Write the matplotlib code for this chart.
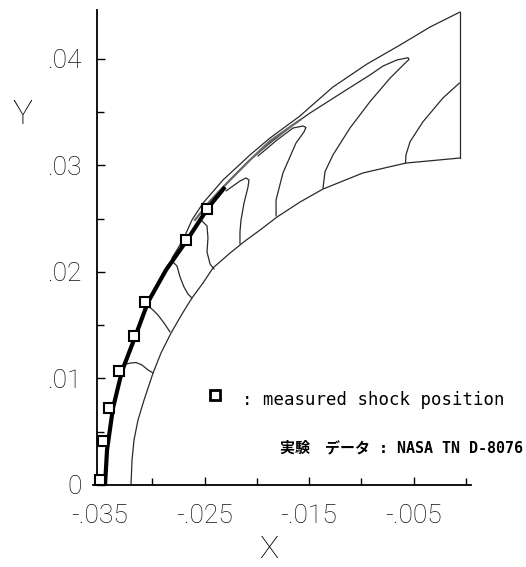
import matplotlib
matplotlib.use("Agg")
import matplotlib.pyplot as plt
from matplotlib.ticker import FixedLocator

# ---------------- data ----------------
# measured shock position (NASA TN D-8076)
meas_x = [-0.0350, -0.0347, -0.0341, -0.0332, -0.0317, -0.0307, -0.0268, -0.0248]
meas_y = [0.00047, 0.00413, 0.00723, 0.0107, 0.0140, 0.0172, 0.0230, 0.0259]

# computed shock (thick line)
shock_x = [-0.03451, -0.03432, -0.03375, -0.03289, -0.03164, -0.03040,
           -0.02868, -0.02667, -0.02467, -0.02304]
shock_y = [0.0, 0.00329, 0.00723, 0.01070, 0.01390, 0.01718,
           0.02019, 0.02300, 0.02601, 0.02798]

# outer boundary of the computational domain
outer_x = [-0.00057, -0.00344, -0.00631, -0.00946, -0.01272, -0.01491, -0.01587,
           -0.01874, -0.02065, -0.02323, -0.02514, -0.02620, -0.02706, -0.02811]
outer_y = [0.04441, 0.04300, 0.04131, 0.03953, 0.03737, 0.03549, 0.03465,
           0.03258, 0.03099, 0.02864, 0.02648, 0.02488, 0.02300, 0.02131]

# body surface
body_x = [-0.03203, -0.03193, -0.03174, -0.03136, -0.03078, -0.02992, -0.02916,
          -0.02820, -0.02715, -0.02620, -0.02514, -0.02419, -0.02256, -0.02113,
          -0.01969, -0.01807, -0.01587, -0.01367, -0.00985, -0.00574, -0.00060]
body_y = [0.0, 0.00235, 0.00423, 0.00610, 0.00798, 0.01052, 0.01239,
          0.01427, 0.01606, 0.01756, 0.01897, 0.02038, 0.02178, 0.02291,
          0.02394, 0.02516, 0.02657, 0.02779, 0.02930, 0.03023, 0.03070]

# outflow boundary (right edge)
exit_x = [-0.00060, -0.00060]
exit_y = [0.03070, 0.04441]

# contour lines
c1_x = [-0.03250, -0.03203, -0.03155, -0.03098, -0.03040, -0.02992]
c1_y = [0.01136, 0.01146, 0.01150, 0.01127, 0.01080, 0.01052]

c2_x = [-0.03040, -0.02992, -0.02945, -0.02887, -0.02830]
c2_y = [0.01681, 0.01643, 0.01596, 0.01521, 0.01437]

c3_x = [-0.02811, -0.02763, -0.02734, -0.02696, -0.02658, -0.02620]
c3_y = [0.02103, 0.02056, 0.01953, 0.01859, 0.01793, 0.01756]

c4_x = [-0.02524, -0.02476, -0.02467, -0.02476, -0.02447, -0.02409]
c4_y = [0.02479, 0.02432, 0.02319, 0.02188, 0.02075, 0.02028]

c5_x = [-0.02294, -0.02161, -0.02103, -0.02075, -0.02084, -0.02122, -0.02151,
        -0.02161, -0.02161]
c5_y = [0.02761, 0.02854, 0.02883, 0.02864, 0.02798, 0.02648, 0.02488,
        0.02376, 0.02263]

c6_x = [-0.01989, -0.01807, -0.01654, -0.01558, -0.01530, -0.01549, -0.01625,
        -0.01750, -0.01816, -0.01816]
c6_y = [0.03089, 0.03239, 0.03352, 0.03371, 0.03357, 0.03315, 0.03211,
        0.02930, 0.02676, 0.02526]

c7_x = [-0.02400, -0.02256, -0.02065, -0.01874, -0.01654, -0.01491, -0.01176,
        -0.00918, -0.00793, -0.00660, -0.00554, -0.00545, -0.00583, -0.00727,
        -0.00918, -0.01109, -0.01272, -0.01348, -0.01367]
c7_y = [0.02714, 0.02864, 0.03052, 0.03211, 0.03380, 0.03493, 0.03690,
        0.03850, 0.03934, 0.03991, 0.04012, 0.03995, 0.03960, 0.03819,
        0.03599, 0.03352, 0.03099, 0.02942, 0.02786]

c8_x = [-0.00062, -0.00220, -0.00411, -0.00535, -0.00574, -0.00578]
c8_y = [0.03775, 0.03634, 0.03411, 0.03223, 0.03099, 0.03023]

# gray lines crowded along the shock
band_x = [-0.01587, -0.01874, -0.02065, -0.02256, -0.02447, -0.02591]
band_y = [0.03427, 0.03230, 0.03052, 0.02864, 0.02667, 0.02488]

xmajor = [-0.035, -0.025, -0.015, -0.005]
xmajor_labels = ["-.035", "-.025", "-.015", "-.005"]
xminor = [-0.030, -0.020, -0.010, 0.0]
ymajor = [0.0, 0.01, 0.02, 0.03, 0.04]
ymajor_labels = ["0", ".01", ".02", ".03", ".04"]
yminor = [0.005, 0.015, 0.025, 0.035]

# ---------------- figure ----------------
fig = plt.figure(figsize=(5.26, 5.67), dpi=100)
ax = fig.add_axes([92.6 / 526, 82 / 567, (471 - 92.6) / 526, 475 / 567])
ax.set_xlim(-0.0357, 0.00048)
ax.set_ylim(0.0, 0.0446)

thin = dict(color="#2a2a2a", lw=0.9, solid_capstyle="round")
ax.plot(body_x, body_y, **thin)
ax.plot(exit_x, exit_y, **thin)
ax.plot(outer_x, outer_y, **thin)
for cx, cy in [(c1_x, c1_y), (c2_x, c2_y), (c3_x, c3_y), (c4_x, c4_y),
               (c5_x, c5_y), (c6_x, c6_y), (c7_x, c7_y), (c8_x, c8_y)]:
    ax.plot(cx, cy, **thin)
ax.plot(band_x, band_y, color="#6a6a6a", lw=1.6)
ax.plot(shock_x, shock_y, color="black", lw=3.0, solid_capstyle="butt")
ax.plot(meas_x, meas_y, ls="none", marker="s", ms=6.5, mfc="white",
        mec="black", mew=1.5, zorder=5)

# legend-like annotations
ax.plot([-0.0240], [0.00845], ls="none", marker="s", ms=6.5, mfc="white",
        mec="black", mew=2.0)
ax.text(-0.02141, 0.00798, ": measured shock position",
        family="DejaVu Sans Mono", fontsize=12.5, va="center", ha="left")
ax.text(-0.01778, 0.00347, "実験\u3000データ : NASA TN D-8076",
        family=["DejaVu Sans Mono", "Noto Sans CJK JP"], fontweight="bold",
        fontsize=10.8, va="center", ha="left")

# axes styling
for s in ["top", "right"]:
    ax.spines[s].set_visible(False)
ax.spines["left"].set_position(("data", -0.0353))
ax.spines["left"].set_linewidth(1.3)
ax.spines["bottom"].set_linewidth(1.3)

ax.xaxis.set_major_locator(FixedLocator(xmajor))
ax.xaxis.set_minor_locator(FixedLocator(xminor))
ax.set_xticklabels(xmajor_labels)
ax.yaxis.set_major_locator(FixedLocator(ymajor))
ax.yaxis.set_minor_locator(FixedLocator(yminor))
ax.set_yticklabels(ymajor_labels)

for lab in ax.get_xticklabels() + ax.get_yticklabels():
    lab.set_fontfamily("Roboto")
    lab.set_fontweight("light")
    lab.set_fontsize(19)
    lab.set_color("#111111")
ax.tick_params(which="major", direction="in", length=6, width=1.0)
ax.tick_params(which="minor", direction="in", length=5, width=1.0)
ax.tick_params(axis="y", which="major", pad=11)
ax.tick_params(axis="x", which="major", pad=14)

fig.text(22 / 526, 1 - 115 / 567, "Y", family="Roboto", weight="light",
         fontsize=24, ha="center", va="center")
fig.text(269 / 526, 1 - 549 / 567, "X", family="Roboto", weight="light",
         fontsize=23, ha="center", va="center")

fig.savefig("out.png", dpi=100, facecolor="white")
